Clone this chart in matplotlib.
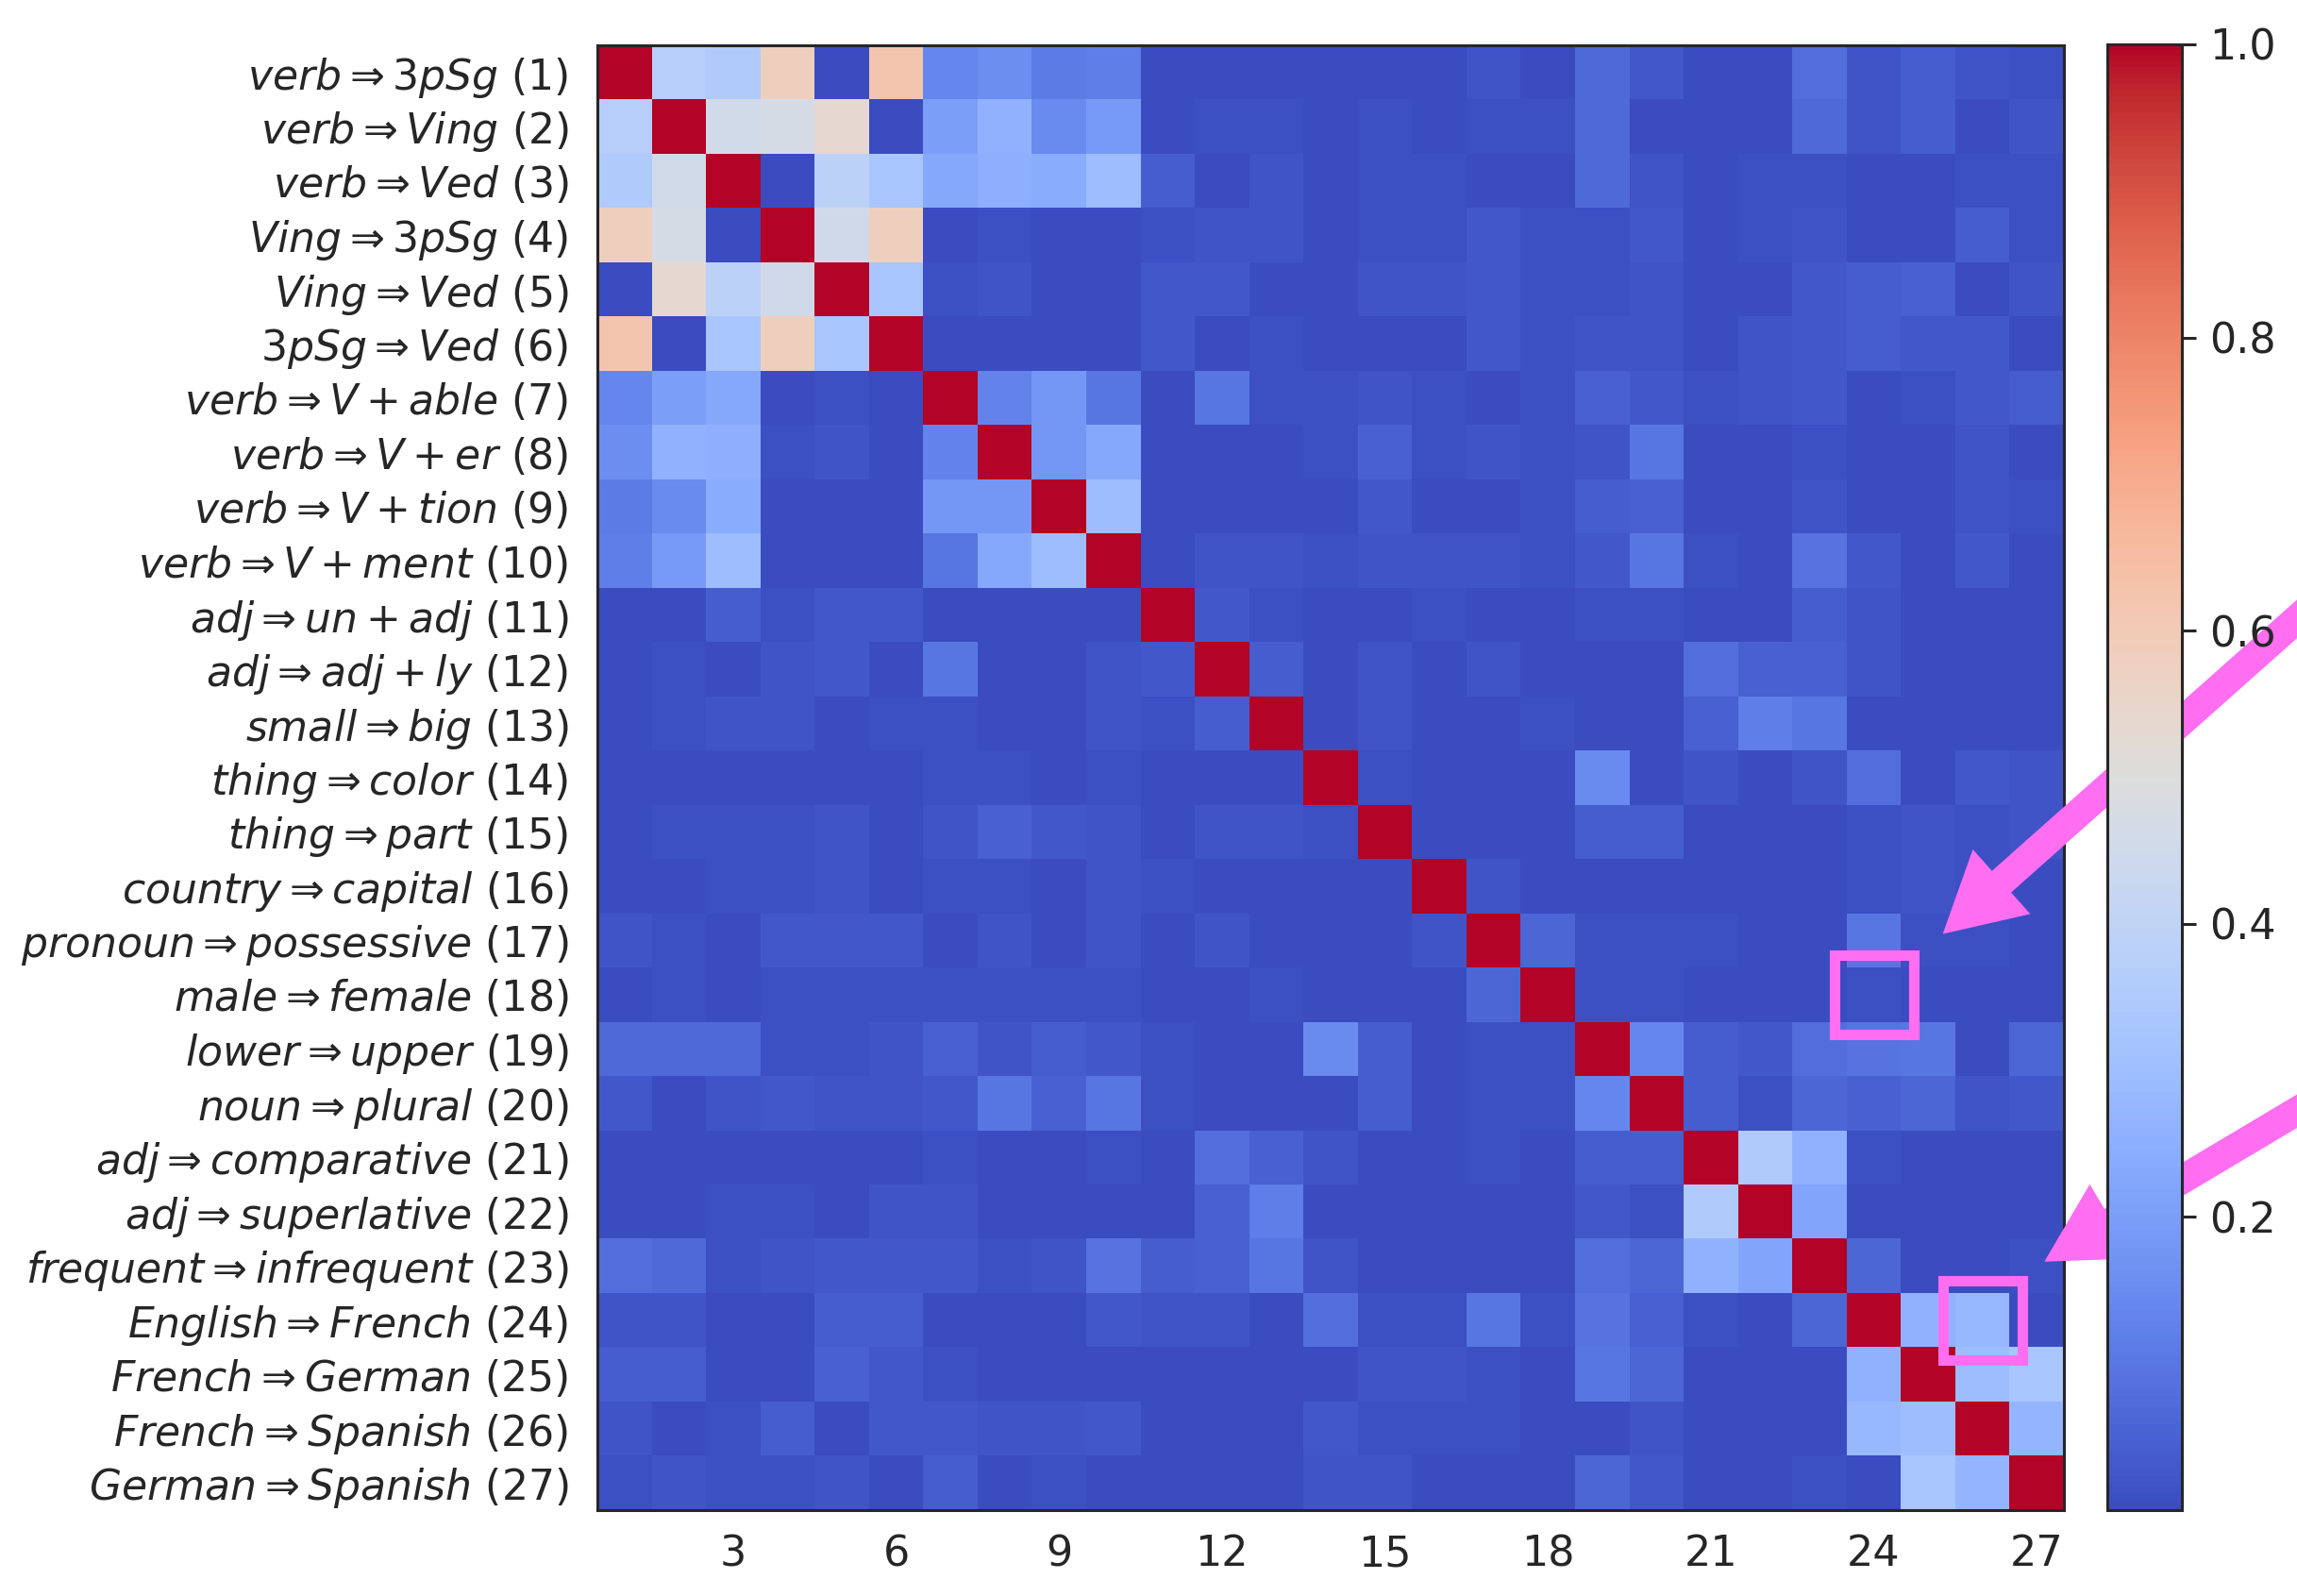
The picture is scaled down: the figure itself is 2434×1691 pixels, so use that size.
import matplotlib
matplotlib.use("Agg")
import matplotlib.pyplot as plt
import numpy as np
from matplotlib.patches import Rectangle

# ---------------- data ----------------
relations = [
    "verb \\Rightarrow 3pSg", "verb \\Rightarrow Ving", "verb \\Rightarrow Ved",
    "Ving \\Rightarrow 3pSg", "Ving \\Rightarrow Ved", "3pSg \\Rightarrow Ved",
    "verb \\Rightarrow V + able", "verb \\Rightarrow V + er", "verb \\Rightarrow V + tion",
    "verb \\Rightarrow V + ment", "adj \\Rightarrow un + adj", "adj \\Rightarrow adj + ly",
    "small \\Rightarrow big", "thing \\Rightarrow color", "thing \\Rightarrow part",
    "country \\Rightarrow capital", "pronoun \\Rightarrow possessive", "male \\Rightarrow female",
    "lower \\Rightarrow upper", "noun \\Rightarrow plural", "adj \\Rightarrow comparative",
    "adj \\Rightarrow superlative", "frequent \\Rightarrow infrequent", "English \\Rightarrow French",
    "French \\Rightarrow German", "French \\Rightarrow Spanish", "German \\Rightarrow Spanish",
]
x_ticks = [3, 6, 9, 12, 15, 18, 21, 24, 27]
cbar_ticks = [0.2, 0.4, 0.6, 0.8, 1.0]
highlight_cells = [(24, 18), (26, 24)]  # (column, row)

r01 = [1.0, .37, .35, .58, .00, .62, .14, .16, .11, .12, .00, .00, .00, .00, .00, .00, .02, .00, .07, .03, .00, .00, .08, .02, .04, .02, .01]
r02 = [.37, 1.0, .46, .47, .53, .00, .20, .26, .15, .19, .00, .01, .01, .00, .01, .00, .01, .01, .07, .00, .00, .00, .07, .02, .04, .00, .02]
r03 = [.35, .46, 1.0, .00, .39, .33, .23, .25, .24, .30, .04, .00, .02, .00, .01, .01, .00, .00, .07, .02, .00, .01, .01, .00, .00, .01, .01]
r04 = [.58, .47, .00, 1.0, .45, .58, .00, .01, .00, .00, .01, .02, .02, .00, .01, .01, .03, .01, .01, .03, .00, .01, .02, .00, .00, .04, .01]
r05 = [.00, .53, .39, .45, 1.0, .33, .01, .02, .00, .00, .03, .03, .00, .00, .02, .02, .03, .01, .01, .02, .00, .00, .03, .04, .05, .00, .02]
r06 = [.62, .00, .33, .58, .33, 1.0, .00, .00, .00, .00, .03, .00, .01, .00, .00, .00, .03, .01, .02, .02, .00, .02, .03, .04, .03, .03, .00]
r07 = [.14, .20, .23, .00, .01, .00, 1.0, .13, .18, .10, .00, .10, .01, .01, .02, .01, .00, .01, .05, .03, .01, .02, .03, .00, .01, .03, .04]
r08 = [.16, .26, .25, .01, .02, .00, .13, 1.0, .18, .23, .00, .00, .00, .01, .05, .01, .02, .01, .02, .10, .00, .00, .01, .00, .00, .02, .00]
r09 = [.11, .15, .24, .00, .00, .00, .18, .18, 1.0, .30, .00, .00, .00, .00, .03, .00, .00, .01, .04, .05, .00, .00, .02, .00, .00, .02, .01]
r10 = [.12, .19, .30, .00, .00, .00, .10, .23, .30, 1.0, .00, .02, .02, .01, .02, .02, .02, .01, .03, .10, .01, .00, .09, .03, .00, .03, .00]
r11 = [.00, .00, .04, .01, .03, .03, .00, .00, .00, .00, 1.0, .03, .01, .00, .00, .01, .00, .00, .01, .01, .00, .00, .04, .02, .00, .00, .00]
r12 = [.00, .01, .00, .02, .03, .00, .10, .00, .00, .02, .03, 1.0, .04, .00, .02, .00, .02, .00, .00, .00, .08, .05, .05, .02, .00, .00, .00]
r13 = [.00, .01, .02, .02, .00, .01, .01, .00, .00, .02, .01, .04, 1.0, .00, .02, .00, .00, .01, .00, .00, .05, .12, .10, .00, .00, .00, .00]
r14 = [.00, .00, .00, .00, .00, .00, .01, .01, .00, .01, .00, .00, .00, 1.0, .01, .00, .00, .00, .15, .00, .02, .00, .02, .08, .00, .03, .02]
r15 = [.00, .01, .01, .01, .02, .00, .02, .05, .03, .02, .00, .02, .02, .01, 1.0, .00, .00, .00, .04, .04, .00, .00, .00, .01, .02, .01, .02]
r16 = [.00, .00, .01, .01, .02, .00, .01, .01, .00, .02, .01, .00, .00, .00, .00, 1.0, .02, .00, .00, .00, .00, .00, .00, .01, .02, .01, .00]
r17 = [.02, .01, .00, .03, .03, .03, .00, .02, .00, .02, .00, .02, .00, .00, .00, .02, 1.0, .06, .01, .01, .01, .00, .00, .10, .01, .01, .00]
r18 = [.00, .01, .00, .01, .01, .01, .01, .01, .01, .01, .00, .00, .01, .00, .00, .00, .06, 1.0, .01, .01, .00, .00, .00, .01, .00, .00, .00]
r19 = [.07, .07, .07, .01, .01, .02, .05, .02, .04, .03, .01, .00, .00, .15, .04, .00, .01, .01, 1.0, .14, .04, .03, .08, .09, .10, .00, .06]
r20 = [.03, .00, .02, .03, .02, .02, .03, .10, .05, .10, .01, .00, .00, .00, .04, .00, .01, .01, .14, 1.0, .04, .01, .06, .05, .06, .02, .03]
r21 = [.00, .00, .00, .00, .00, .00, .01, .00, .00, .01, .00, .08, .05, .02, .00, .00, .01, .00, .04, .04, 1.0, .35, .26, .01, .00, .00, .00]
r22 = [.00, .00, .01, .01, .00, .02, .02, .00, .00, .00, .00, .05, .12, .00, .00, .00, .00, .00, .03, .01, .35, 1.0, .22, .00, .00, .00, .00]
r23 = [.08, .07, .01, .02, .03, .03, .03, .01, .02, .09, .04, .05, .10, .02, .00, .00, .00, .00, .08, .06, .26, .22, 1.0, .06, .00, .00, .01]
r24 = [.02, .02, .00, .00, .04, .04, .00, .00, .00, .03, .02, .02, .00, .08, .01, .01, .10, .01, .09, .05, .01, .00, .06, 1.0, .26, .28, .00]
r25 = [.04, .04, .00, .00, .05, .03, .01, .00, .00, .00, .00, .00, .00, .00, .02, .02, .01, .00, .10, .06, .00, .00, .00, .26, 1.0, .30, .33]
r26 = [.02, .00, .01, .04, .00, .03, .03, .02, .02, .03, .00, .00, .00, .03, .01, .01, .01, .00, .00, .02, .00, .00, .00, .28, .30, 1.0, .27]
r27 = [.01, .02, .01, .01, .02, .00, .04, .00, .01, .00, .00, .00, .00, .02, .02, .00, .00, .00, .06, .03, .00, .00, .01, .00, .33, .27, 1.0]

matrix = np.array([r01, r02, r03, r04, r05, r06, r07, r08, r09, r10, r11, r12, r13, r14,
                   r15, r16, r17, r18, r19, r20, r21, r22, r23, r24, r25, r26, r27])
n = len(relations)
ylabels = [f"${rel}$ ({i + 1})" for i, rel in enumerate(relations)]

# ---------------- style ----------------
TXT = "#262626"
PINK = "#ff6ef0"
plt.rcParams["font.family"] = ["DejaVu Sans"]
plt.rcParams["mathtext.fontset"] = "dejavusans"
plt.rcParams["text.color"] = TXT
plt.rcParams["xtick.color"] = TXT
plt.rcParams["ytick.color"] = TXT

W, H, DPI = 2434, 1691, 200
fig = plt.figure(figsize=(W / DPI, H / DPI), dpi=DPI)

# heatmap axes (pixel geometry from reference)
ax = fig.add_axes([633 / W, 1 - 1600 / H, (2187 - 633) / W, (1600 - 48) / H])
im = ax.imshow(matrix, cmap="coolwarm", vmin=0.0, vmax=1.0, aspect="auto",
               interpolation="nearest",
               extent=(0.5, n + 0.5, n + 0.5, 0.5))
ax.set_xticks(x_ticks)
ax.set_xticklabels([str(t) for t in x_ticks], fontsize=16)
ax.set_yticks(np.arange(1, n + 1))
ax.set_yticklabels(ylabels, fontsize=15.9)
ax.tick_params(axis="both", length=0)
ax.tick_params(axis="y", pad=11)
ax.tick_params(axis="x", pad=9)
for sp in ax.spines.values():
    sp.set_linewidth(1.1)
    sp.set_color(TXT)

# colorbar
cax = fig.add_axes([2233 / W, 1 - 1600 / H, (2312 - 2233) / W, (1600 - 47) / H])
cb = fig.colorbar(im, cax=cax, ticks=cbar_ticks)
cb.ax.set_yticklabels([f"{t:.1f}" for t in cbar_ticks], fontsize=16)
cb.ax.tick_params(length=5.4, width=1.1, color=TXT, pad=5)
cb.outline.set_linewidth(1.1)
cb.outline.set_edgecolor(TXT)

# highlight squares
half = 0.73
for (cx, cy) in highlight_cells:
    ax.add_patch(Rectangle((cx - half, cy - half), 2 * half, 2 * half, fill=False,
                           edgecolor=PINK, linewidth=4.0, clip_on=False, zorder=5))

# arrows pointing at the highlighted cells (tails run off the figure edge)
arrow_style = "simple,head_length=3.0,head_width=3.3,tail_width=1.1"
arrows = [((25.27, 16.88), (35.75, 7.55)),
          ((27.14, 22.92), (34.15, 18.74))]
for tip, tail in arrows:
    ann = ax.annotate("", xy=tip, xytext=tail, xycoords="data", textcoords="data",
                      annotation_clip=False,
                      arrowprops=dict(arrowstyle=arrow_style, mutation_scale=10,
                                      color=PINK, shrinkA=0, shrinkB=0, lw=0))
    ann.arrow_patch.set_clip_on(False)
    ann.set_zorder(6)

fig.savefig("out.png", dpi=DPI)
